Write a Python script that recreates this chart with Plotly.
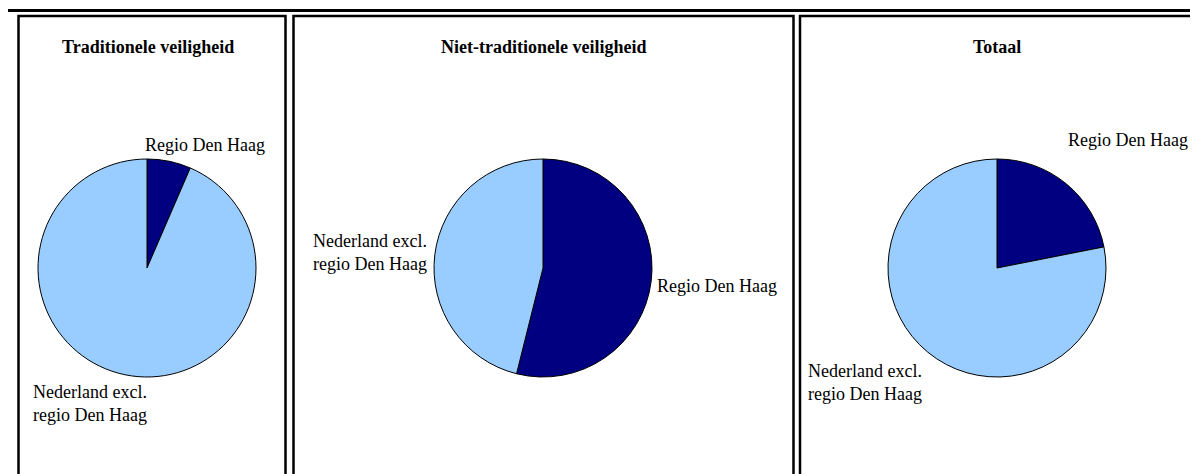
import plotly.graph_objects as go

# The page body has an 8px margin, so the figure is sized to the window minus
# that margin and all layout positions below are given in window pixels.
WIN_W, WIN_H = 1198, 474
OFF = 8
W, H = WIN_W - OFF, WIN_H - OFF

# ---- data ----
categories = ["Regio Den Haag", "Nederland excl. regio Den Haag"]
category_labels = ["Regio Den Haag", "Nederland excl.<br>regio Den Haag"]
panel_titles = ["Traditionele veiligheid", "Niet-traditionele veiligheid", "Totaal"]
traditioneel = [6.5, 93.5]
niet_traditioneel = [53.9, 46.1]
totaal = [21.9, 78.1]
series = [traditioneel, niet_traditioneel, totaal]

colors = ["#000080", "#99CCFF"]
FONT = "Liberation Serif, Times New Roman, serif"

# pixel geometry of each panel (layout only, window pixels)
pie_centers = [(147, 268), (543, 268), (997, 268)]
radius = 109
title_x = [148, 543, 997]
title_y = 47
# label anchor positions (left x, centre y) per panel: [dark slice, light slice]
label_pos = [
    [(143, 145), (31, 403)],
    [(655, 286), (311, 253)],
    [(1066, 140), (806, 382)],
]


def px(x):
    return (x - OFF) / W


def py(y):
    return 1 - (y - OFF) / H


fig = go.Figure()
for i, vals in enumerate(series):
    cx, cy = pie_centers[i]
    fig.add_trace(go.Pie(
        labels=categories,
        values=vals,
        sort=False,
        direction="clockwise",
        rotation=0,
        textinfo="none",
        hoverinfo="label+percent",
        marker=dict(colors=colors, line=dict(color="black", width=1)),
        domain=dict(x=[px(cx - radius), px(cx + radius)],
                    y=[py(cy + radius), py(cy - radius)]),
        showlegend=False,
    ))

annotations = []
for i, t in enumerate(panel_titles):
    annotations.append(dict(
        x=px(title_x[i]), y=py(title_y), xref="paper", yref="paper",
        text="<b>%s</b>" % t, showarrow=False, xanchor="center", yanchor="middle",
        font=dict(family=FONT, size=18, color="black"),
    ))
    for j, lab in enumerate(category_labels):
        lx, ly = label_pos[i][j]
        annotations.append(dict(
            x=px(lx), y=py(ly), xref="paper", yref="paper",
            text=lab, showarrow=False, xanchor="left", yanchor="middle", align="left",
            font=dict(family=FONT, size=18, color="black"),
        ))

shapes = []
# top rule line
shapes.append(dict(type="line", xref="paper", yref="paper",
                   x0=px(OFF), x1=px(WIN_W + 4), y0=py(10.5), y1=py(10.5),
                   line=dict(color="black", width=3)))
# panel boxes
boxes = [(18.5, 285.5), (293.5, 793.5), (800, WIN_W + 10)]
for x0, x1 in boxes:
    shapes.append(dict(type="rect", xref="paper", yref="paper",
                       x0=px(x0), x1=px(x1), y0=py(WIN_H + 10), y1=py(16),
                       line=dict(color="black", width=2.5), fillcolor="rgba(0,0,0,0)"))

fig.update_layout(
    width=W, height=H,
    margin=dict(l=0, r=0, t=0, b=0),
    paper_bgcolor="white", plot_bgcolor="white",
    annotations=annotations, shapes=shapes,
)

fig.write_html("out.html")
